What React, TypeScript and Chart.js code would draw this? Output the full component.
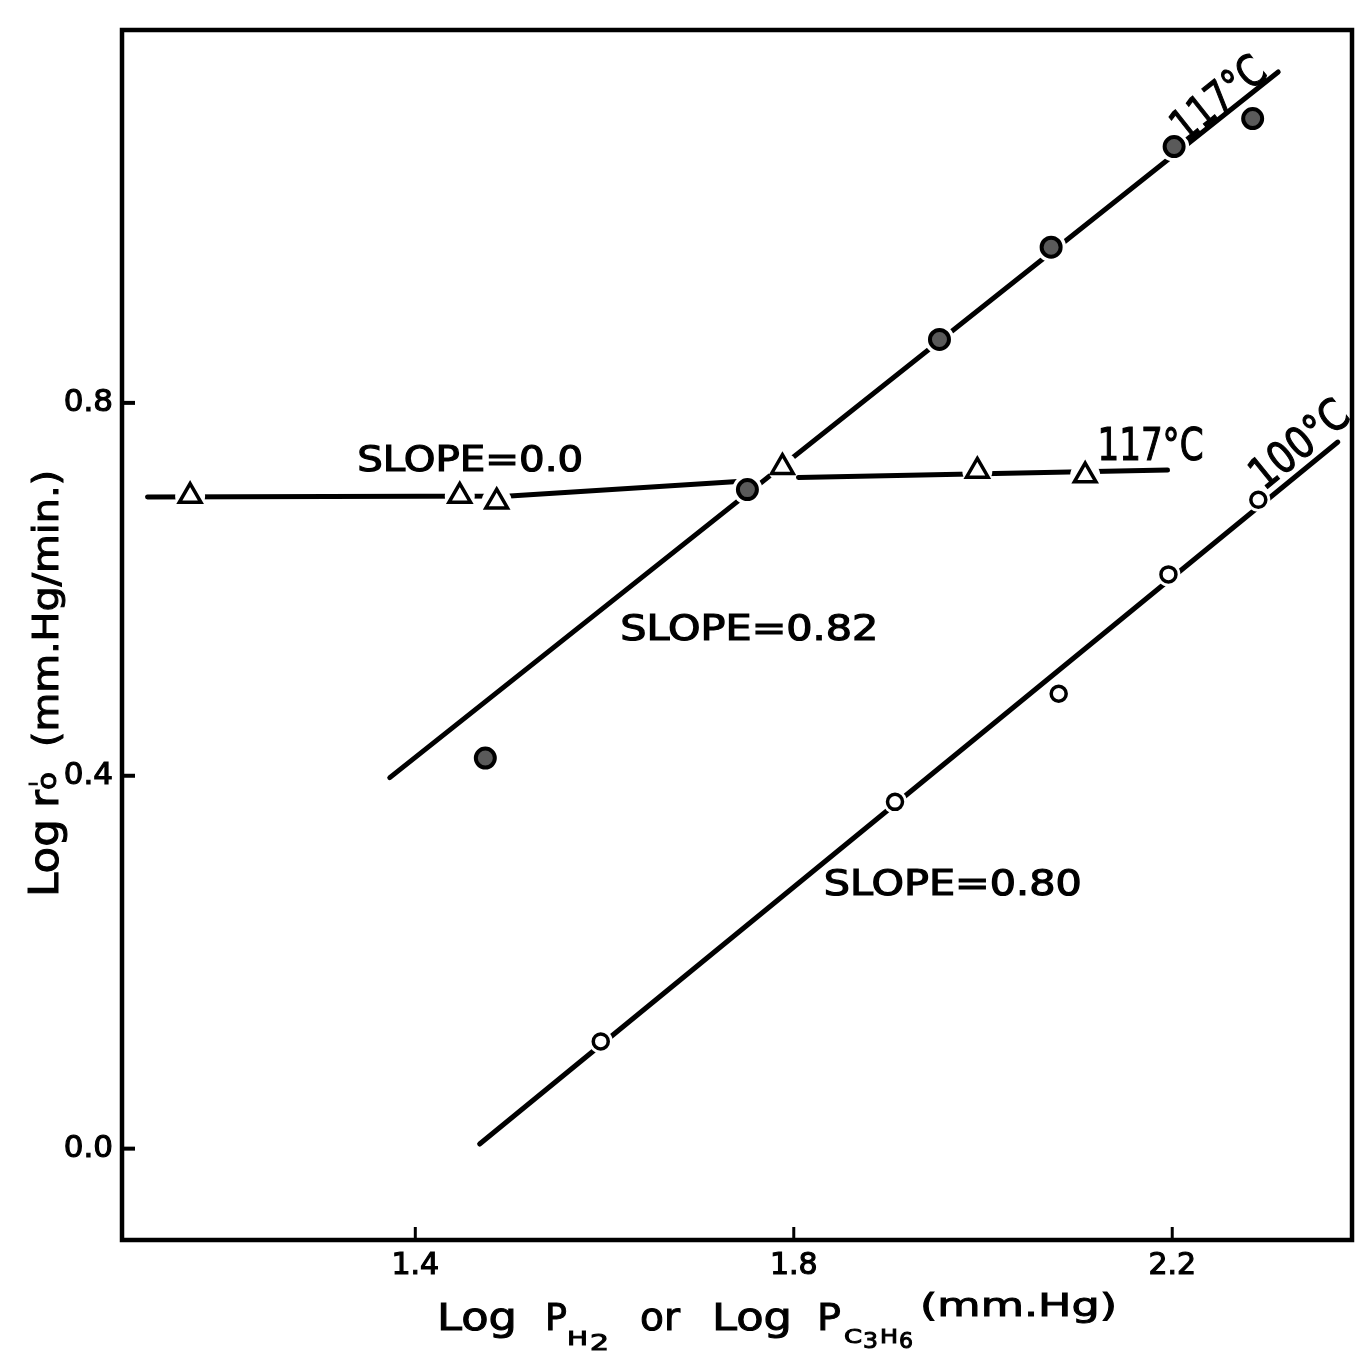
import React, { useEffect, useRef } from 'react';
import { Chart, registerables } from 'chart.js';

Chart.register(...registerables);

// ---- data ----
const xTicks = [1.4, 1.8, 2.2];
const yTicks = [0.0, 0.4, 0.8];

// 117°C, log r vs log P (circles)
const circles117X = [1.474, 1.751, 1.954, 2.072, 2.202, 2.285];
const circles117Y = [0.419, 0.707, 0.868, 0.967, 1.075, 1.105];
// 100°C (open circles)
const circles100X = [1.596, 1.907, 2.08, 2.196, 2.291];
const circles100Y = [0.115, 0.372, 0.488, 0.616, 0.696];
// 117°C, other reactant (triangles)
const trianglesX = [1.162, 1.447, 1.486, 1.788, 1.994, 2.108];
const trianglesY = [0.7, 0.7, 0.694, 0.731, 0.727, 0.722];

// fitted lines
const fit117X = [1.373, 2.312];
const fit117Y = [0.398, 1.155];
const fit100X = [1.468, 2.375];
const fit100Y = [0.005, 0.758];
const fitFlatX = [1.117, 1.5, 1.745, 1.775, 1.805, 2.195];
const fitFlatY: (number | null)[] = [0.699, 0.7, 0.716, null, 0.72, 0.728];

const FONT = '"DejaVu Sans", sans-serif';

const pts = (xs: number[], ys: (number | null)[]) => xs.map((x, i) => ({ x, y: ys[i] }));

function drawFitted(ctx: CanvasRenderingContext2D, text: string, cx: number, cy: number, size: number, width: number, rot: number) {
  ctx.save();
  ctx.translate(cx, cy);
  ctx.rotate((rot * Math.PI) / 180);
  ctx.font = `${size}px ${FONT}`;
  const w = ctx.measureText(text).width;
  ctx.scale(width / w, 1);
  ctx.textAlign = 'center';
  ctx.textBaseline = 'alphabetic';
  ctx.fillStyle = '#000';
  ctx.strokeStyle = '#000';
  ctx.lineWidth = 1.2;
  ctx.fillText(text, 0, size * 0.365);
  ctx.strokeText(text, 0, size * 0.365);
  ctx.restore();
}

type Run = { t: string; x: number; w: number; s: number; b: number };

function drawRuns(ctx: CanvasRenderingContext2D, runs: Run[]) {
  runs.forEach((r) => {
    ctx.save();
    ctx.font = `${r.s}px ${FONT}`;
    const w = ctx.measureText(r.t).width;
    ctx.translate(r.x, r.b);
    ctx.scale(r.w / w, 1);
    ctx.textAlign = 'left';
    ctx.textBaseline = 'alphabetic';
    ctx.fillStyle = '#000';
    ctx.strokeStyle = '#000';
    ctx.lineWidth = 1;
    ctx.fillText(r.t, 0, 0);
    ctx.strokeText(r.t, 0, 0);
    ctx.restore();
  });
}

const annotations = [
  { text: 'SLOPE=0.0', x: 1.458, y: 0.741, size: 35, w: 226, rot: 0 },
  { text: '117°C', x: 2.177, y: 0.756, size: 44, w: 106, rot: 0 },
  { text: 'SLOPE=0.82', x: 1.753, y: 0.559, size: 35, w: 258, rot: 0 },
  { text: 'SLOPE=0.80', x: 1.968, y: 0.286, size: 35, w: 258, rot: 0 },
  { text: '117°C', x: 2.2475, y: 1.128, size: 44, w: 108, rot: -38.5 },
  { text: '100°C', x: 2.333, y: 0.757, size: 44, w: 114, rot: -39 },
];

const decor = {
  id: 'decor',
  afterDraw(chart: any) {
    const { ctx, chartArea: a, scales } = chart;
    const xs = scales.x;
    const ys = scales.y;
    ctx.save();
    ctx.strokeStyle = '#000';
    ctx.lineWidth = 4.5;
    ctx.strokeRect(a.left, a.top, a.right - a.left, a.bottom - a.top);
    ctx.lineWidth = 3;
    xTicks.forEach((v) => {
      const px = xs.getPixelForValue(v);
      ctx.beginPath();
      ctx.moveTo(px, a.bottom);
      ctx.lineTo(px, a.bottom - 13);
      ctx.stroke();
    });
    ctx.lineWidth = 4;
    yTicks.forEach((v) => {
      const py = ys.getPixelForValue(v);
      ctx.beginPath();
      ctx.moveTo(a.left, py);
      ctx.lineTo(a.left + 13, py);
      ctx.stroke();
    });
    annotations.forEach((an) => {
      drawFitted(ctx, an.text, xs.getPixelForValue(an.x), ys.getPixelForValue(an.y), an.size, an.w, an.rot);
    });

    // x-axis title with subscripts
    drawRuns(ctx, [
      { t: 'Log', x: 437, w: 80, s: 38, b: 1330 },
      { t: 'P', x: 545, w: 22, s: 38, b: 1330 },
      { t: 'H', x: 567, w: 21, s: 20, b: 1345 },
      { t: '2', x: 590, w: 19, s: 21, b: 1350 },
      { t: 'or', x: 640, w: 40, s: 38, b: 1330 },
      { t: 'Log', x: 712, w: 80, s: 38, b: 1330 },
      { t: 'P', x: 817, w: 24, s: 38, b: 1330 },
      { t: 'C', x: 844, w: 18, s: 20, b: 1343 },
      { t: '3', x: 863, w: 15, s: 21, b: 1348 },
      { t: 'H', x: 880, w: 18, s: 20, b: 1343 },
      { t: '6', x: 899, w: 14, s: 21, b: 1348 },
      { t: '(mm.Hg)', x: 920, w: 197, s: 32, b: 1316 },
    ]);

    // y-axis title, rotated
    ctx.save();
    ctx.rotate(-Math.PI / 2);
    drawRuns(ctx, [
      { t: 'Log', x: -897, w: 78, s: 40, b: 58 },
      { t: 'r', x: -808, w: 18, s: 40, b: 58 },
      { t: "'", x: -787, w: 6, s: 30, b: 51 },
      { t: 'o', x: -790, w: 18, s: 26, b: 56 },
      { t: '(mm.Hg/min.)', x: -747, w: 277, s: 35, b: 58 },
    ]);
    ctx.restore();
    ctx.restore();
  },
};

export default function App() {
  const ref = useRef<HTMLCanvasElement | null>(null);

  useEffect(() => {
    if (!ref.current) return;
    Chart.defaults.font.family = FONT;
    const lineDs = (data: any[]) => ({
      type: 'scatter' as const,
      data,
      showLine: true,
      borderColor: '#000',
      borderWidth: 5,
      borderCapStyle: 'round' as const,
      pointRadius: 0,
      spanGaps: false,
      order: 5,
    });
    const haloDs = (data: any[], r: number) => ({
      type: 'scatter' as const,
      data,
      pointRadius: r,
      pointBackgroundColor: '#fff',
      pointBorderWidth: 0,
      pointBorderColor: '#fff',
      order: 3,
    });
    const chart = new Chart(ref.current, {
      type: 'scatter',
      data: {
        datasets: [
          lineDs(pts(fit117X, fit117Y)),
          lineDs(pts(fit100X, fit100Y)),
          lineDs(pts(fitFlatX, fitFlatY)),
          haloDs(pts(circles117X, circles117Y), 15),
          haloDs(pts(circles100X, circles100Y), 12),
          haloDs(pts(trianglesX, trianglesY), 15),
          {
            label: '117°C circles',
            data: pts(circles117X, circles117Y),
            pointStyle: 'circle',
            pointRadius: 9.5,
            pointBorderWidth: 4,
            pointBorderColor: '#000',
            pointBackgroundColor: '#5a5a5a',
            order: 1,
          },
          {
            label: '100°C circles',
            data: pts(circles100X, circles100Y),
            pointStyle: 'circle',
            pointRadius: 7.5,
            pointBorderWidth: 3.5,
            pointBorderColor: '#000',
            pointBackgroundColor: '#fff',
            order: 1,
          },
          {
            label: 'triangles',
            data: pts(trianglesX, trianglesY),
            pointStyle: 'triangle',
            pointRadius: 12.5,
            pointBorderWidth: 3.5,
            pointBorderColor: '#000',
            pointBackgroundColor: '#fff',
            order: 1,
          },
        ] as any,
      },
      options: {
        responsive: false,
        devicePixelRatio: 1,
        animation: false,
        events: [],
        layout: { autoPadding: false, padding: { top: 30, right: 4, left: 0, bottom: 0 } },
        plugins: { legend: { display: false }, tooltip: { enabled: false } },
        scales: {
          x: {
            type: 'linear',
            min: 1.09,
            max: 2.39,
            grid: { display: false, drawTicks: false },
            border: { display: false },
            afterBuildTicks: (s: any) => {
              s.ticks = xTicks.map((v) => ({ value: v }));
            },
            afterFit: (s: any) => {
              s.height = 111;
              s.paddingLeft = 0;
              s.paddingRight = 0;
            },
            ticks: {
              color: '#000',
              padding: 8,
              textStrokeColor: '#000',
              textStrokeWidth: 1.2,
              font: { size: 30, family: FONT },
              callback: (v: any) => Number(v).toFixed(1),
            },
          },
          y: {
            type: 'linear',
            min: -0.098,
            max: 1.2,
            grid: { display: false, drawTicks: false },
            border: { display: false },
            afterBuildTicks: (s: any) => {
              s.ticks = yTicks.map((v) => ({ value: v }));
            },
            afterFit: (s: any) => {
              s.width = 122;
              s.paddingTop = 0;
              s.paddingBottom = 0;
            },
            ticks: {
              color: '#000',
              padding: 9,
              textStrokeColor: '#000',
              textStrokeWidth: 1.2,
              font: { size: 31, family: FONT },
              callback: (v: any) => Number(v).toFixed(1),
            },
          },
        },
      },
      plugins: [decor],
    });
    return () => chart.destroy();
  }, []);

  return (
    <div style={{ position: 'absolute', left: 0, top: 0, width: 1356, height: 1351, background: '#fff' }}>
      <canvas ref={ref} width={1356} height={1351} style={{ display: 'block' }} />
    </div>
  );
}
